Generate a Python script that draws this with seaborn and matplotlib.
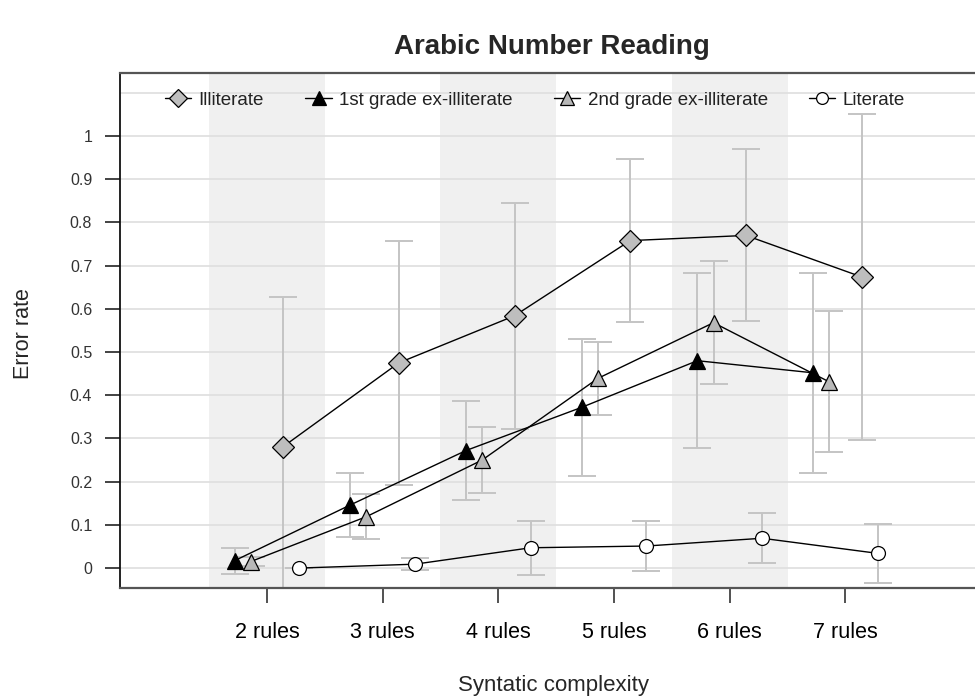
import numpy as np
import pandas as pd
import matplotlib
matplotlib.use("Agg")
import matplotlib.pyplot as plt
import seaborn as sns

# ---------------- data ----------------
categories = ["2 rules", "3 rules", "4 rules", "5 rules", "6 rules", "7 rules"]
y_ticks = [0, 0.1, 0.2, 0.3, 0.4, 0.5, 0.6, 0.7, 0.8, 0.9, 1]
y_tick_labels = ["0", "0.1", "0.2", "0.3", "0.4", "0.5", "0.6", "0.7", "0.8", "0.9", "1"]

illiterate = [0.281, 0.475, 0.584, 0.758, 0.770, 0.674]
illiterate_err = [0.347, 0.283, 0.261, 0.188, 0.199, 0.377]
grade1 = [0.017, 0.146, 0.272, 0.372, 0.480, 0.452]
grade1_err = [0.030, 0.073, 0.114, 0.159, 0.203, 0.232]
grade2 = [0.015, 0.119, 0.250, 0.439, 0.568, 0.431]
grade2_err = [0.010, 0.052, 0.076, 0.085, 0.142, 0.163]
literate = [0.000, 0.009, 0.047, 0.051, 0.069, 0.034]
literate_err = [0.000, 0.014, 0.063, 0.057, 0.058, 0.068]

group_names = ["Illiterate", "1st grade ex-illiterate", "2nd grade ex-illiterate", "Literate"]

# ---------------- styles ----------------
sns.set_theme(style="white")
plt.rcParams["font.family"] = ["Liberation Sans", "DejaVu Sans"]

series = [
    dict(name=group_names[0], vals=illiterate, err=illiterate_err, dodge=0.14,
         marker="D", ms=11, mfc="#BEBEBE"),
    dict(name=group_names[1], vals=grade1, err=grade1_err, dodge=-0.28,
         marker="^", ms=12, mfc="black"),
    dict(name=group_names[2], vals=grade2, err=grade2_err, dodge=-0.14,
         marker="^", ms=12, mfc="#B8B8B8"),
    dict(name=group_names[3], vals=literate, err=literate_err, dodge=0.28,
         marker="o", ms=10, mfc="white"),
]

fig = plt.figure(figsize=(9.75, 6.97), dpi=100)
ax = fig.add_axes([120 / 975, (697 - 587.5) / 697, 855 / 975, (587.5 - 73) / 697])

base_x = np.arange(len(categories))

# alternating background bands
for i in range(0, len(categories), 2):
    ax.axvspan(base_x[i] - 0.5, base_x[i] + 0.5, color="#F0F0F0", zorder=0, lw=0)

for s in series:
    xs = base_x + s["dodge"]
    df = pd.DataFrame({"x": xs, "rate": s["vals"]})
    ax.errorbar(xs, s["vals"], yerr=s["err"], fmt="none", ecolor="#C4C4C4",
                elinewidth=1.4, capsize=10, capthick=1.4, zorder=2)
    sns.lineplot(data=df, x="x", y="rate", ax=ax, color="black", lw=1.0,
                 marker=s["marker"], markersize=s["ms"], markerfacecolor=s["mfc"],
                 markeredgecolor="black", markeredgewidth=0.9, errorbar=None,
                 sort=False, label=s["name"], zorder=4)

ax.set_xlim(base_x[0] - 1.27, base_x[0] + 6.12)
ax.set_ylim(-0.045, 1.146)

ax.set_xticks(base_x)
ax.set_xticklabels(categories, fontsize=15.5, color="black")
ax.set_yticks(y_ticks)
ax.set_yticklabels(y_tick_labels, fontsize=11.5, color="#333333")
ax.set_yticks([1.1], minor=True)

ax.grid(False)
ax.yaxis.grid(True, which="both", color="#DEDEDE", lw=1.2, zorder=1)
ax.set_axisbelow(True)

ax.tick_params(axis="y", which="major", left=True, length=11, width=1.2,
               color="#222222", pad=9)
ax.tick_params(axis="y", which="minor", left=False, length=0)
ax.tick_params(axis="x", bottom=True, length=11, width=1.2, color="#333333", pad=14)

ax.spines["right"].set_visible(False)
ax.spines["left"].set_color("#111111")
ax.spines["left"].set_linewidth(1.3)
ax.spines["bottom"].set_color("#555555")
ax.spines["bottom"].set_linewidth(1.6)
ax.spines["top"].set_color("#555555")
ax.spines["top"].set_linewidth(1.6)

ax.set_xlabel("Syntatic complexity", fontsize=16, va="center")
ax.xaxis.set_label_coords((553.5 - 120) / 855, (587.5 - 685) / 514.5)
ax.set_ylabel("Error rate", fontsize=15.5, va="center")
ax.yaxis.set_label_coords((24 - 120) / 855, (587.5 - 334) / 514.5)

leg = ax.legend(loc="center", bbox_to_anchor=((535 - 120) / 855, (587.5 - 100) / 514.5),
                ncol=4, frameon=False, fontsize=13.5, markerscale=0.85,
                handlelength=1.4, handletextpad=0.4, columnspacing=2.2)
for t in leg.get_texts():
    t.set_color("#222222")

fig.text(552 / 975, 1 - 47 / 697, "Arabic Number Reading", ha="center", va="center",
         fontsize=20, fontweight="bold")

fig.savefig("out.png", dpi=100)
